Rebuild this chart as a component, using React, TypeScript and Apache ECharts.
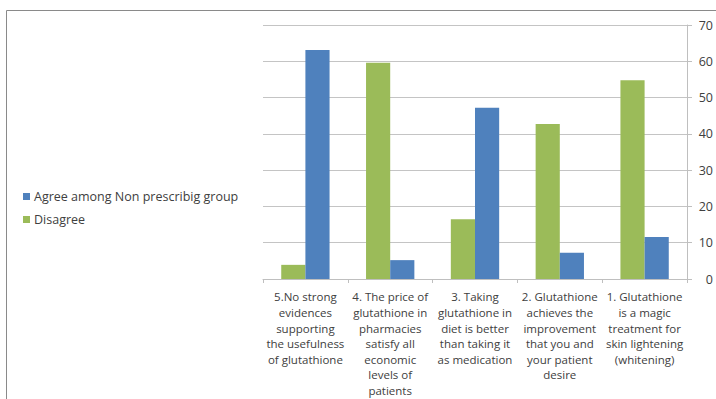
import React, { useEffect, useRef } from "react";
import * as echarts from "echarts";

const categories = [
  "5.No strong\nevidences\nsupporting\nthe usefulness\nof glutathione",
  "4. The price of\nglutathione in\npharmacies\nsatisfy all\neconomic\nlevels of\npatients",
  "3. Taking\nglutathione in\ndiet is better\nthan taking it\nas medication",
  "2. Glutathione\nachieves the\nimprovement\nthat you and\nyour patient\ndesire",
  "1. Glutathione\nis a magic\ntreatment for\nskin lightening\n(whitening)",
];
const agreeName = "Agree among Non prescribig group";
const disagreeName = "Disagree";
const agreeValues = [63.1, 5.2, 47.2, 7.2, 11.6];
const disagreeValues = [3.9, 59.6, 16.5, 42.7, 54.8];
const yTicks = { min: 0, max: 70, interval: 10 };

const FONT = "'Open Sans', 'Noto Sans', sans-serif";
const TEXT = "#404040";

export default function App() {
  const ref = useRef<HTMLDivElement>(null);
  useEffect(() => {
    document.body.style.margin = "0";
    const chart = echarts.init(ref.current!, null, { renderer: "svg" });
    chart.setOption({
      animation: false,
      backgroundColor: "#ffffff",
      textStyle: { fontFamily: FONT },
      graphic: [
        { type: "line", shape: { x1: 6.5, y1: 10.5, x2: 716, y2: 10.5 }, style: { stroke: "#8a8a8a", lineWidth: 1 } },
        { type: "line", shape: { x1: 6.5, y1: 10.5, x2: 6.5, y2: 399 }, style: { stroke: "#8a8a8a", lineWidth: 1 } },
      ],
      legend: {
        orient: "vertical",
        left: 18,
        top: 185,
        itemWidth: 7,
        itemHeight: 7,
        itemGap: 10,
        icon: "rect",
        data: [agreeName, disagreeName],
        textStyle: { color: TEXT, fontSize: 12.5, fontFamily: FONT, padding: [0, 0, 0, -1] },
      },
      grid: { left: 263, right: 25, top: 25, bottom: 120, containLabel: false },
      xAxis: {
        type: "category",
        data: categories,
        axisLine: { show: true, lineStyle: { color: "#bfbfbf" } },
        axisTick: { show: true, length: 4, alignWithLabel: false, lineStyle: { color: "#bfbfbf" } },
        axisLabel: {
          color: TEXT,
          fontSize: 11.5,
          lineHeight: 15.6,
          margin: 10,
          interval: 0,
          align: "center",
          fontFamily: FONT,
        },
      },
      yAxis: {
        type: "value",
        position: "right",
        min: yTicks.min,
        max: yTicks.max,
        interval: yTicks.interval,
        axisLine: { show: true, lineStyle: { color: "#bfbfbf" } },
        axisTick: { show: true, length: 5, lineStyle: { color: "#bfbfbf" } },
        axisLabel: { color: TEXT, fontSize: 12.5, margin: 26, align: "right", fontFamily: FONT },
        splitLine: { show: true, lineStyle: { color: "#c4c4c4", width: 1 } },
      },
      series: [
        {
          name: disagreeName,
          type: "bar",
          data: disagreeValues,
          barGap: "0%",
          barCategoryGap: "43%",
          itemStyle: { color: "#9BBB59" },
        },
        {
          name: agreeName,
          type: "bar",
          data: agreeValues,
          barGap: "0%",
          barCategoryGap: "43%",
          itemStyle: { color: "#4F81BD" },
        },
      ],
    });
    return () => chart.dispose();
  }, []);
  return <div ref={ref} style={{ width: 716, height: 399 }} />;
}
